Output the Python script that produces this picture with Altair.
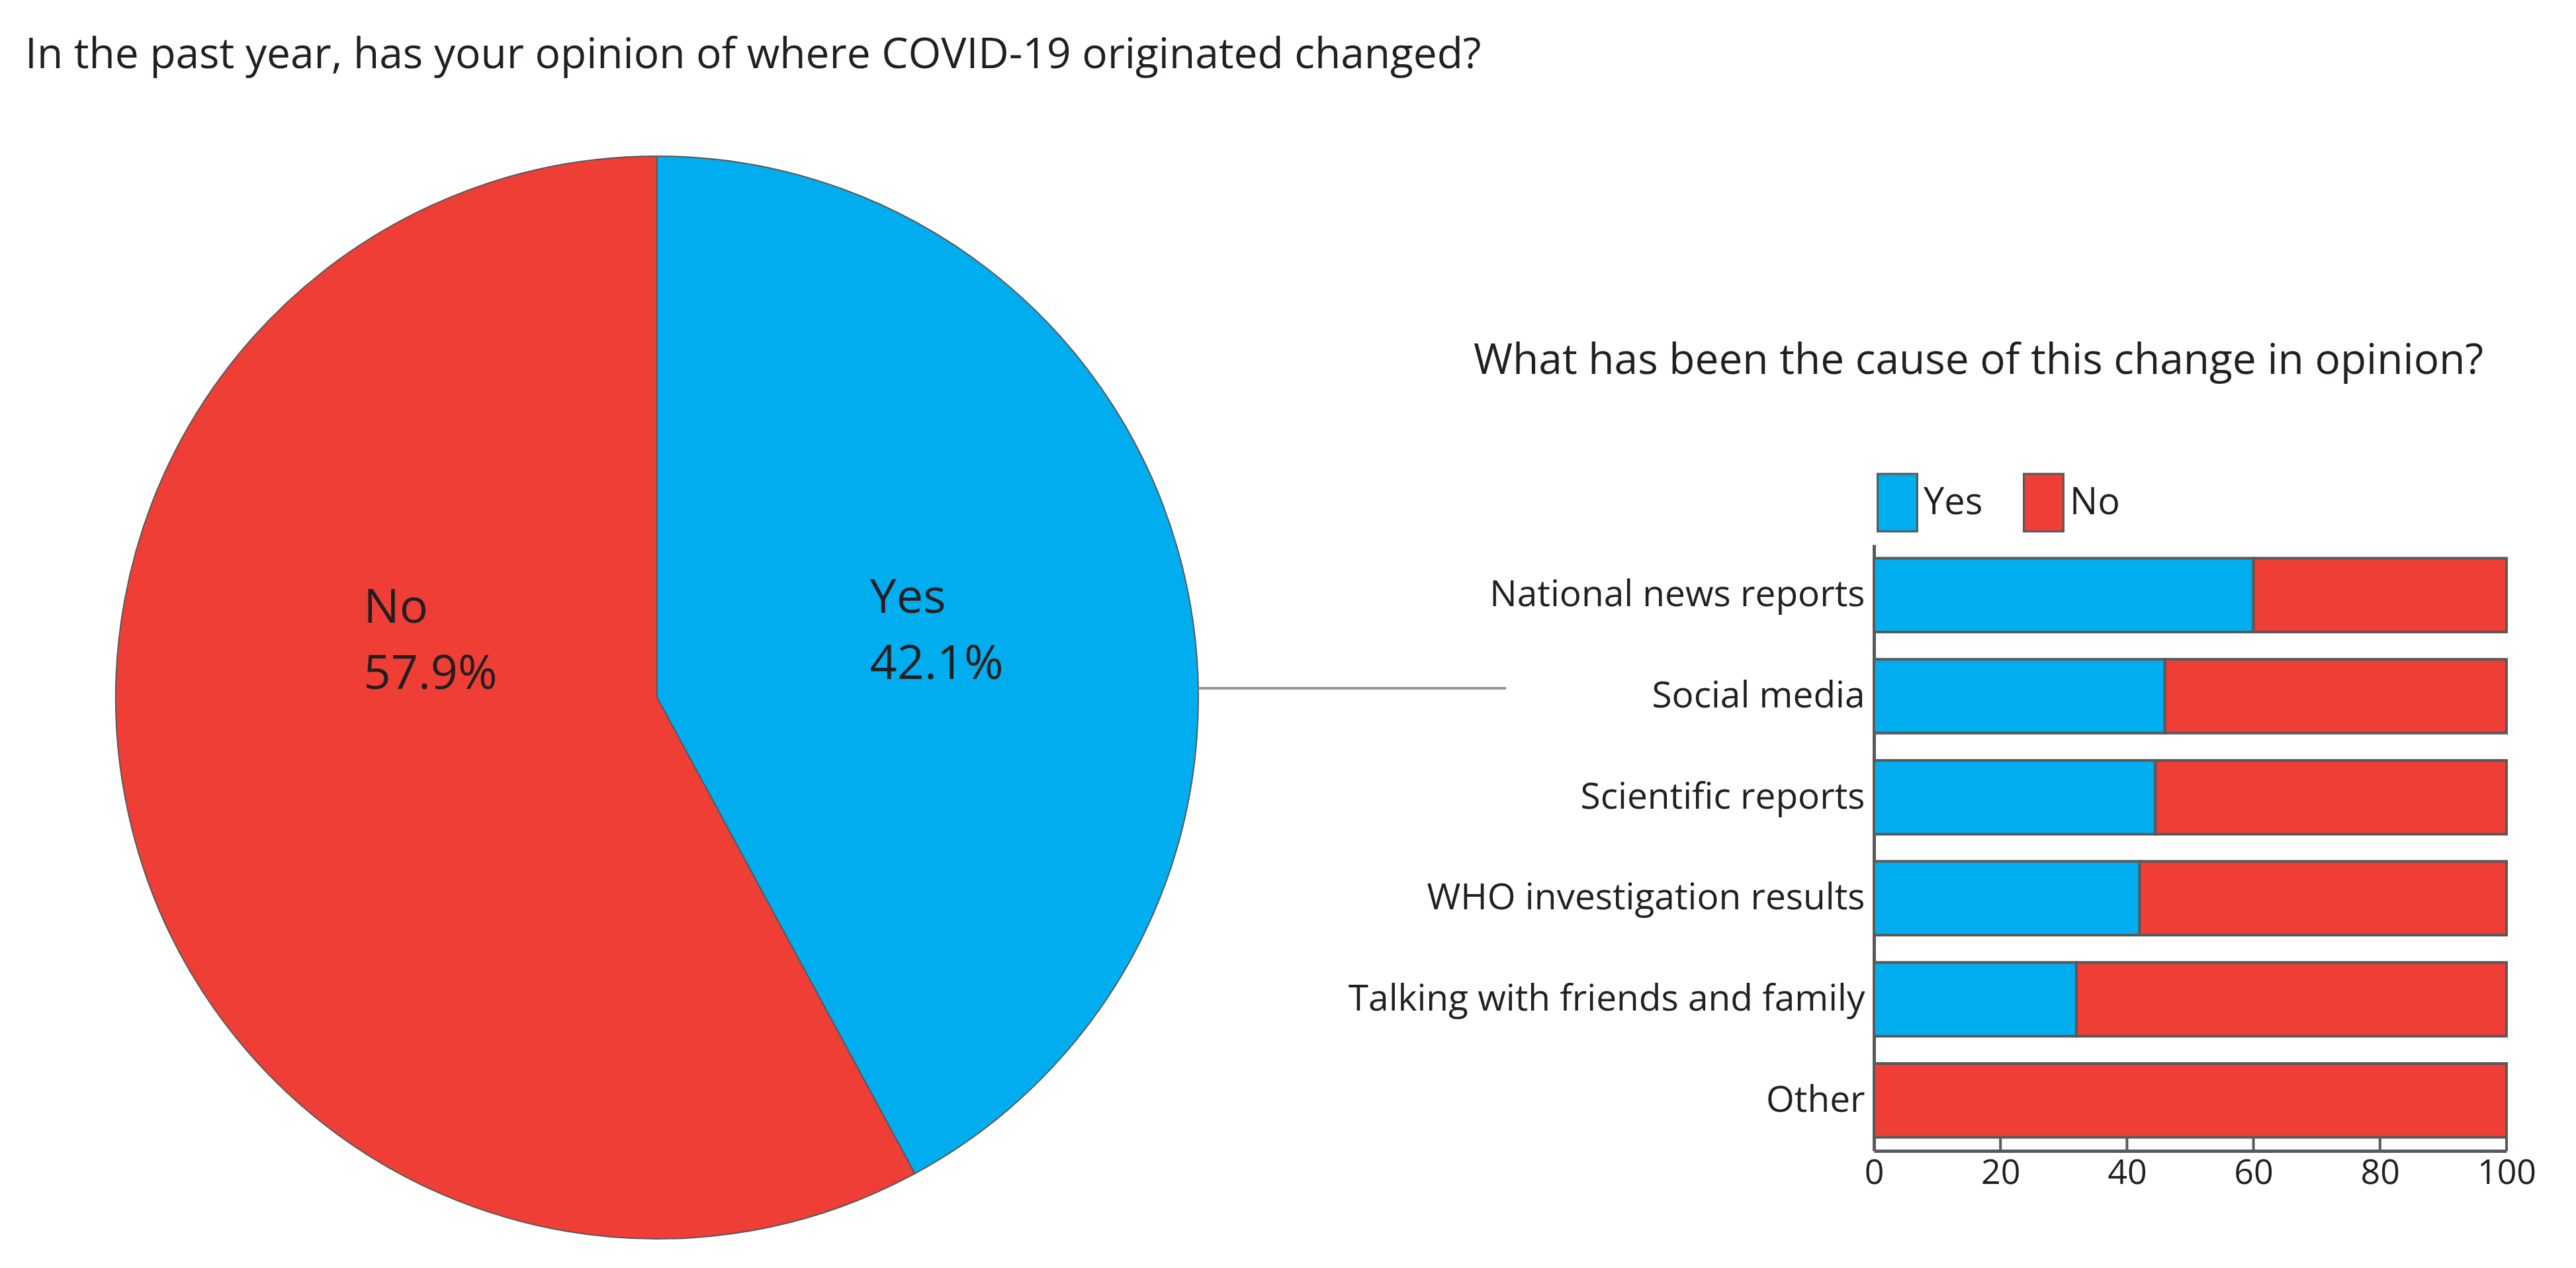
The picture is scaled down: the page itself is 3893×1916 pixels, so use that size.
import altair as alt
import pandas as pd

# ---------------- data ----------------
pie_answers = ["Yes", "No"]
pie_values = [42.1, 57.9]

causes = [
    "National news reports",
    "Social media",
    "Scientific reports",
    "WHO investigation results",
    "Talking with friends and family",
    "Other",
]
yes_pct = [60, 46, 44.5, 42, 32, 0]
no_pct = [40, 54, 55.5, 58, 68, 100]
x_ticks = [0, 20, 40, 60, 80, 100]

title_left = "In the past year, has your opinion of where COVID-19 originated changed?"
title_right = "What has been the cause of this change in opinion?"

# ---------------- style ----------------
BLUE = "#00aeef"
RED = "#ef3e36"
TEXT = "#231f20"
EDGE = "#58595b"
LINE = "#939598"
FONT = "Open Sans"

color_scale = alt.Scale(domain=["Yes", "No"], range=[BLUE, RED])

pie_df = pd.DataFrame({
    "answer": pie_answers,
    "value": pie_values,
    "order": list(range(len(pie_answers))),
    "label": [f"{a}\n{v}%" for a, v in zip(pie_answers, pie_values)],
})

bar_df = pd.DataFrame({
    "cause": causes * 2,
    "answer": ["Yes"] * len(causes) + ["No"] * len(causes),
    "pct": yes_pct + no_pct,
    "order": [0] * len(causes) + [1] * len(causes),
})
tick_df = pd.DataFrame({"tick": x_ticks})

# ---------------- pie panel ----------------
CX, CY, R = 955, 231, 818
PW, PH = 1900, 916

pie_base = alt.Chart(pie_df).encode(
    theta=alt.Theta("value:Q", stack=True),
    order=alt.Order("order:Q"),
)
arcs = pie_base.mark_arc(outerRadius=R, stroke=EDGE, strokeWidth=2).encode(
    color=alt.Color("answer:N", scale=color_scale, legend=None),
    x=alt.value(CX),
    y=alt.value(CY),
)
text_style = dict(align="left", baseline="alphabetic", fontSize=72, lineHeight=100,
                  lineBreak="\n", font=FONT, color=TEXT)
yes_text = pie_base.mark_text(radius=340, dx=-8, dy=-44, **text_style).encode(
    text=alt.condition("datum.answer === 'Yes'", "label:N", alt.value("")),
    x=alt.value(CX),
    y=alt.value(CY),
)
no_text = pie_base.mark_text(radius=443, dx=-14, dy=-222, **text_style).encode(
    text=alt.condition("datum.answer === 'No'", "label:N", alt.value("")),
    x=alt.value(CX),
    y=alt.value(CY),
)
connector = alt.Chart(pd.DataFrame({"k": [0]})).mark_rule(color=LINE, strokeWidth=4).encode(
    x=alt.value(CX + R),
    x2=alt.value(2238),
    y=alt.value(217),
)

left = alt.layer(arcs, yes_text, no_text, connector).properties(
    width=PW,
    height=PH,
    title=alt.TitleParams(
        title_left, anchor="start", frame="group", offset=116,
        fontSize=64, font=FONT, fontWeight="normal", color=TEXT,
    ),
)

# ---------------- bar panel ----------------
BW, BH = 956, 916

x_axis = alt.Axis(values=x_ticks, title=None, grid=False, ticks=False,
                  domainColor=EDGE, domainWidth=5, labelFontSize=52,
                  labelColor=TEXT, labelPadding=8, labelFlush=False, labelFont=FONT)
x_scale = alt.Scale(domain=[0, 100], nice=False)

legend = alt.Legend(
    orient="none", legendX=4, legendY=-95, direction="horizontal", title=None,
    symbolType="M-1,-1.45H1V1.45H-1Z", symbolSize=3600,
    symbolStrokeColor=EDGE, symbolStrokeWidth=3, symbolOpacity=1,
    labelFontSize=56, labelColor=TEXT, labelFont=FONT, labelOffset=8,
    columnPadding=55, padding=0,
)

bars = alt.Chart(bar_df).mark_bar(stroke=EDGE, strokeWidth=4).encode(
    x=alt.X("pct:Q", stack="zero", scale=x_scale, axis=x_axis),
    y=alt.Y("cause:N", sort=causes,
            scale=alt.Scale(paddingInner=0.27, paddingOuter=0.135),
            axis=alt.Axis(title=None, ticks=False, domainColor=EDGE, domainWidth=5,
                          labelFontSize=55, labelColor=TEXT, labelPadding=14,
                          labelFont=FONT, labelLimit=2000)),
    color=alt.Color("answer:N", scale=color_scale, legend=legend),
    order=alt.Order("order:Q"),
)
ticks = alt.Chart(tick_df).mark_rule(color=EDGE, strokeWidth=4).encode(
    x=alt.X("tick:Q", scale=x_scale, axis=x_axis),
    y=alt.value(BH),
    y2=alt.value(BH - 20),
)

right = alt.layer(bars, ticks).properties(
    width=BW,
    height=BH,
    title=alt.TitleParams(
        title_right, anchor="middle", frame="group", dx=-320, offset=150,
        fontSize=64, font=FONT, fontWeight="normal", color=TEXT,
    ),
)

chart = alt.hconcat(left, right, spacing=894, bounds="flush").resolve_scale(
    color="independent"
).properties(
    padding={"left": 30, "top": 44, "right": 5, "bottom": 5},
    background="white",
).configure(
    font=FONT,
    view=alt.ViewConfig(stroke="transparent", strokeWidth=0),
)

chart.save("out.html", embed_options={"renderer": "svg", "actions": False})
